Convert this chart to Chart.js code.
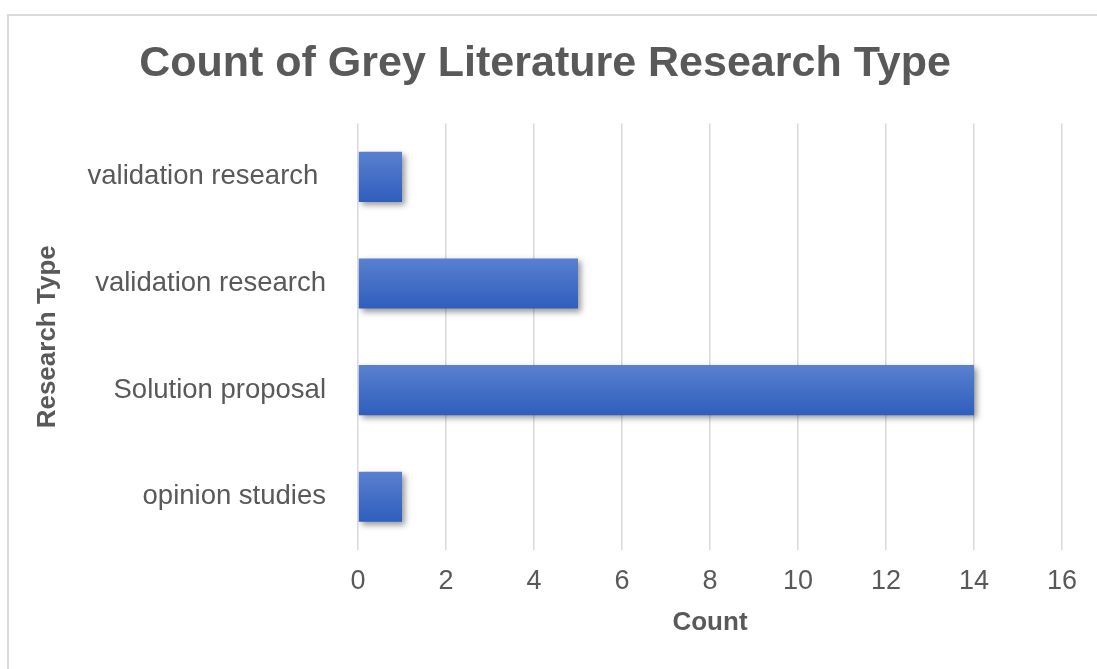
<!DOCTYPE html>
<html>
<head>
<meta charset="utf-8">
<script src="https://cdn.jsdelivr.net/npm/chart.js@4.4.1/dist/chart.umd.min.js"></script>
<style>
  html, body { margin: 0; padding: 0; background: #fff; }
  #wrap { position: relative; width: 1097px; height: 669px; }
  #frame {
    position: absolute; left: 7px; top: 14px; right: -10px; bottom: -10px;
    border-left: 2px solid #dadada; border-top: 2px solid #dadada;
    pointer-events: none;
  }
</style>
</head>
<body>
<div id="wrap">
  <canvas id="chart" width="1097" height="669"></canvas>
  <div id="frame"></div>
</div>
<script>
// chart data
const categories = ["validation research ", "validation research", "Solution proposal", "opinion studies"];
const counts = [1, 5, 14, 1];
const xTicks = [0, 2, 4, 6, 8, 10, 12, 14, 16];

const textColor = "#595959";
const barTop = "#5a80cf";
const barBottom = "#2f5ebe";
const barPct = 0.47;

// vertical gradient per bar, like the office chart style
function barFill(c) {
  const chart = c.chart;
  const y = chart.scales && chart.scales.y;
  if (!y || c.dataIndex === undefined || !y.height) return barTop;
  const mid = y.getPixelForValue(c.dataIndex);
  const half = (y.height / categories.length) * barPct / 2;
  if (!isFinite(mid) || !isFinite(half)) return barTop;
  const g = chart.ctx.createLinearGradient(0, mid - half, 0, mid + half);
  g.addColorStop(0, barTop);
  g.addColorStop(1, barBottom);
  return g;
}

const barShadow = {
  id: "barShadow",
  beforeDatasetsDraw(chart) {
    const ctx = chart.ctx;
    ctx.save();
    ctx.shadowColor = "rgba(0,0,0,0.4)";
    ctx.shadowBlur = 6;
    ctx.shadowOffsetX = 3;
    ctx.shadowOffsetY = 3;
  },
  afterDatasetsDraw(chart) {
    chart.ctx.restore();
  }
};

new Chart(document.getElementById("chart"), {
  type: "bar",
  data: {
    labels: categories,
    datasets: [{
      label: "Count",
      data: counts,
      backgroundColor: barFill,
      borderWidth: 0,
      barPercentage: barPct,
      categoryPercentage: 1
    }]
  },
  plugins: [barShadow],
  options: {
    indexAxis: "y",
    responsive: false,
    animation: false,
    layout: { padding: { top: 15, left: 28, right: 35, bottom: 27 } },
    plugins: {
      legend: { display: false },
      tooltip: { enabled: false },
      title: {
        display: true,
        text: "Count of Grey Literature Research Type",
        color: textColor,
        font: { family: "'Liberation Sans', Arial, sans-serif", size: 43, weight: "bold" },
        padding: { top: 23, bottom: 34 }
      }
    },
    scales: {
      x: {
        min: 0,
        max: 16,
        afterBuildTicks: s => { s.ticks = xTicks.map(v => ({ value: v })); },
        afterFit: s => { s.height = 92; },
        grid: { color: "#d9d9d9", lineWidth: 1.5, drawTicks: false },
        border: { display: false },
        ticks: {
          color: textColor,
          padding: 15,
          font: { family: "'Liberation Sans', Arial, sans-serif", size: 27 }
        },
        title: {
          display: true,
          text: "Count",
          color: textColor,
          padding: { top: 10, bottom: 4 },
          font: { family: "'Liberation Sans', Arial, sans-serif", size: 26, weight: "bold" }
        }
      },
      y: {
        afterFit: s => { s.width = 330; },
        grid: { display: false },
        border: { display: false },
        ticks: {
          color: textColor,
          padding: 24,
          font: { family: "'Liberation Sans', Arial, sans-serif", size: 27.5 }
        },
        title: {
          display: true,
          text: "Research Type",
          color: textColor,
          padding: { top: 4, bottom: 17 },
          font: { family: "'Liberation Sans', Arial, sans-serif", size: 26, weight: "bold" }
        }
      }
    }
  }
});
</script>
</body>
</html>
